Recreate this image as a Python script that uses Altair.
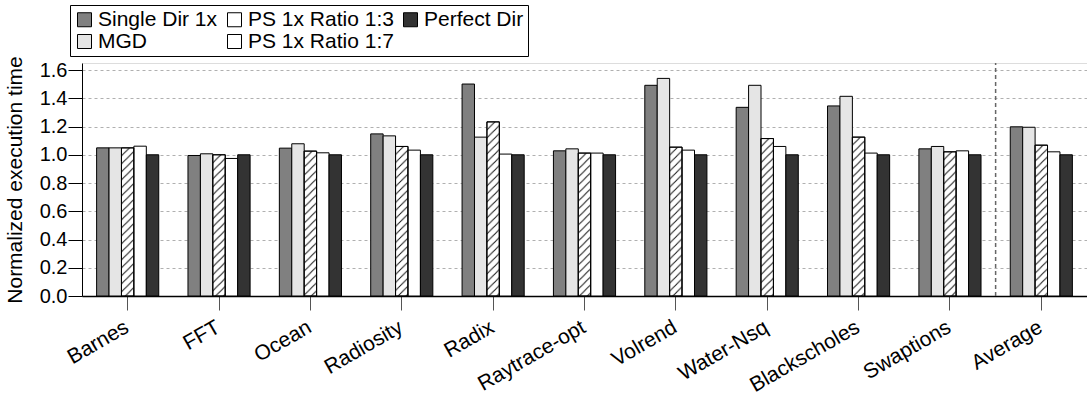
import altair as alt
import pandas as pd
from urllib.parse import quote

benchmarks = ["Barnes", "FFT", "Ocean", "Radiosity", "Radix", "Raytrace-opt",
              "Volrend", "Water-Nsq", "Blackscholes", "Swaptions", "Average"]
series = ["Single Dir 1x", "MGD", "PS 1x Ratio 1:3", "PS 1x Ratio 1:7", "Perfect Dir"]
legend_order = ["Single Dir 1x", "PS 1x Ratio 1:3", "Perfect Dir", "MGD", "PS 1x Ratio 1:7"]
colors_by_legend = ["#808080", "#ffffff", "#333333", "#e5e5e5", "#ffffff"]

single_dir = [1.049, 0.995, 1.047, 1.148, 1.501, 1.028, 1.492, 1.336, 1.346, 1.042, 1.198]
mgd        = [1.049, 1.007, 1.078, 1.134, 1.125, 1.042, 1.541, 1.492, 1.414, 1.059, 1.195]
ps_1_3     = [1.049, 1.000, 1.026, 1.059, 1.233, 1.012, 1.054, 1.115, 1.125, 1.021, 1.068]
ps_1_7     = [1.061, 0.974, 1.014, 1.033, 1.005, 1.012, 1.033, 1.059, 1.012, 1.028, 1.021]
perfect    = [1.000, 1.000, 1.000, 1.000, 1.000, 1.000, 1.000, 1.000, 1.000, 1.000, 1.000]

y_ticks = [0.0, 0.2, 0.4, 0.6, 0.8, 1.0, 1.2, 1.4, 1.6]

rows = []
for name, vals in zip(series, [single_dir, mgd, ps_1_3, ps_1_7, perfect]):
    for b, v in zip(benchmarks, vals):
        rows.append({"bench": b, "series": name, "value": v})
df = pd.DataFrame(rows)

FONT = "Liberation Sans"

hatch_svg = (
    "<svg xmlns='http://www.w3.org/2000/svg' width='100%' height='100%'>"
    "<defs><pattern id='h' patternUnits='userSpaceOnUse' width='8' height='8'>"
    "<path d='M-2,2 L2,-2 M0,8 L8,0 M6,10 L10,6' stroke='#111' stroke-width='1'/>"
    "</pattern></defs><rect width='100%' height='100%' fill='url(#h)'/></svg>"
)
hatch_url = "data:image/svg+xml;charset=utf-8," + quote(hatch_svg)

x_enc = alt.X("bench:N", sort=benchmarks,
              scale=alt.Scale(paddingInner=0.32, paddingOuter=0.16),
              axis=alt.Axis(title=None, labelAngle=-30, labelAlign="right",
                            labelBaseline="top", labelFontSize=21, labelFont=FONT,
                            labelColor="black", labelPadding=6, labelOffset=-6, tickSize=14,
                            tickColor="#555555", domainColor="black", domainWidth=1.5,
                            grid=False))
xoff = alt.XOffset("series:N", sort=series, scale=alt.Scale(domain=series, paddingInner=0, paddingOuter=0))
y_scale = alt.Scale(domain=[0, 1.65], nice=False)
y_enc = alt.Y("value:Q", scale=y_scale,
              axis=alt.Axis(title="Normalized execution time", values=y_ticks, tickCount=10,
                            format=".1f", labelFontSize=20, labelFont=FONT, labelColor="black",
                            labelPadding=1, tickSize=14, tickColor="black",
                            domainColor="black", titleFont=FONT, titleFontSize=21,
                            titleFontWeight="normal", titleColor="black", titlePadding=14,
                            grid=True, gridColor="#b0b0b0", gridDash=[3, 3], gridWidth=1))

bars = alt.Chart(df).mark_bar(stroke="black", strokeWidth=1).encode(
    x=x_enc, xOffset=xoff, y=y_enc,
    color=alt.Color("series:N",
                    scale=alt.Scale(domain=legend_order, range=colors_by_legend),
                    legend=alt.Legend(title=None, orient="none", legendX=-12, legendY=-58,
                                      columns=3, direction="horizontal",
                                      symbolType="square", symbolSize=196,
                                      symbolStrokeColor="black", symbolStrokeWidth=1,
                                      labelFont=FONT, labelFontSize=21, labelColor="black",
                                      labelLimit=400, columnPadding=6, rowPadding=0,
                                      strokeColor="black", padding=4, fillColor="white",
                                      symbolOffset=0, labelOffset=3)),
)

hatched = df[df["series"] == "PS 1x Ratio 1:3"]
hatch = alt.Chart(hatched).mark_image(aspect=False).encode(
    x=alt.X("bench:N", sort=benchmarks),
    xOffset=alt.XOffset("series:N", sort=series),
    y=alt.Y("value:Q"),
    y2=alt.datum(0),
    url=alt.value(hatch_url),
)
outline = alt.Chart(hatched).mark_bar(stroke="black", strokeWidth=1, fillOpacity=0).encode(
    x=alt.X("bench:N", sort=benchmarks),
    xOffset=alt.XOffset("series:N", sort=series),
    y=alt.Y("value:Q"),
)

sep = alt.Chart(pd.DataFrame({"bench": ["Swaptions"]})).mark_rule(
    color="#666666", strokeDash=[4, 3], strokeWidth=1.5, xOffset=14.6).encode(
    x=alt.X("bench:N", sort=benchmarks, bandPosition=1),
    y=alt.datum(0), y2=alt.datum(1.65),
)

chart = alt.layer(bars, hatch, outline, sep).properties(
    width=1005, height=233,
    autosize=alt.AutoSizeParams(type="none"),
    padding={"left": 82, "top": 63, "right": 0, "bottom": 99},
).configure_view(stroke=None).configure(background="white")

chart.save("out.html", embed_options={"renderer": "svg", "actions": False})
